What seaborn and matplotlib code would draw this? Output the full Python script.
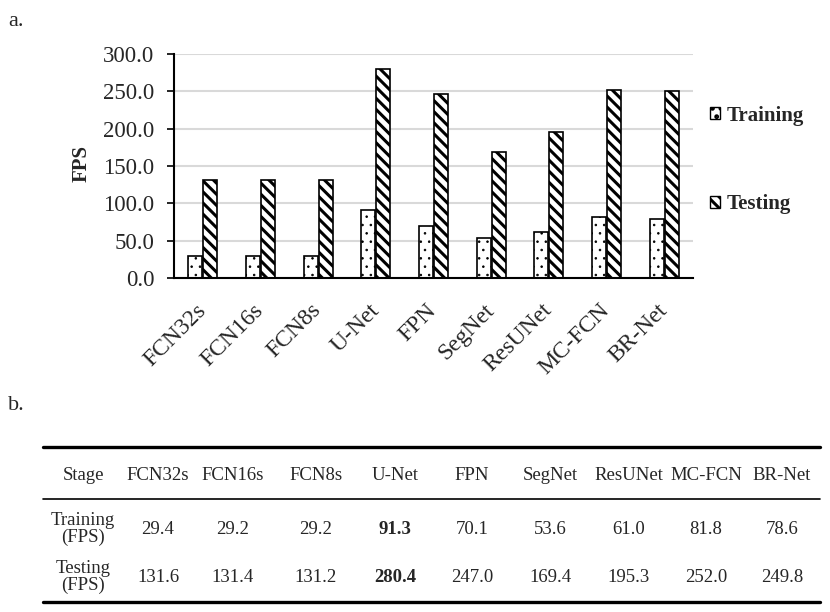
import numpy as np
import pandas as pd
import seaborn as sns
import matplotlib
matplotlib.use("Agg")
import matplotlib.pyplot as plt
from matplotlib.patches import Patch
from matplotlib.transforms import ScaledTranslation

# model names and FPS values (from table b.)
models = ["FCN32s", "FCN16s", "FCN8s", "U-Net", "FPN", "SegNet", "ResUNet", "MC-FCN", "BR-Net"]
train_fps = [29.4, 29.2, 29.2, 91.3, 70.1, 53.6, 61.0, 81.8, 78.6]
test_fps = [131.6, 131.4, 131.2, 280.4, 247.0, 169.4, 195.3, 252.0, 249.8]
stages = ["Training", "Testing"]
yticks = [0, 50, 100, 150, 200, 250, 300]

df = pd.DataFrame({
    "Model": models * 2,
    "FPS": train_fps + test_fps,
    "Stage": ["Training"] * len(models) + ["Testing"] * len(models),
})

sns.set_style("white")
plt.rcParams["font.family"] = ["Liberation Serif", "DejaVu Serif"]
plt.rcParams["hatch.linewidth"] = 2.2

hatches = {"Training": "..", "Testing": "\\\\\\"}
hatch_lw = {"Training": 0.6, "Testing": 2.2}


def set_hlw(p, lw):
    # per-patch hatch width (matplotlib >= 3.10), else private attribute
    if hasattr(p, "set_hatch_linewidth"):
        p.set_hatch_linewidth(lw)
    else:
        p._hatch_linewidth = lw


fig = plt.figure(figsize=(8.3, 6.12), dpi=100)
ax = fig.add_axes([174 / 830, 1 - 278 / 612, (693 - 174) / 830, (278 - 54) / 612])

sns.barplot(data=df, x="Model", y="FPS", hue="Stage", order=models, hue_order=stages,
            palette=["white", "white"], width=0.52, gap=0.06, edgecolor="black",
            linewidth=1.2, legend=False, ax=ax)

nm = len(models)
for i, bar in enumerate(ax.patches[:2 * nm]):
    st = stages[i // nm]
    bar.set_hatch(hatches[st])
    bar.set_edgecolor("black")
    set_hlw(bar, hatch_lw[st])

ax.set_ylim(0, 300)
ax.set_xlim(-0.5, nm - 0.5)
ax.set_yticks(yticks)
ax.set_yticklabels([f"{v:.1f}" for v in yticks], fontsize=16.5)
ax.yaxis.grid(True, color="#d9d9d9", linewidth=1.5)
ax.set_axisbelow(True)
ax.set_xlabel("")
ax.set_ylabel("FPS", fontsize=15, fontweight="bold")
ax.yaxis.set_label_coords((92 - 174) / 519, (278 - 164) / 224)
ax.set_xticks(range(nm))
ax.set_xticklabels(models, rotation=45, ha="right", va="center", rotation_mode="anchor",
                   fontsize=17)
shift = ScaledTranslation(6 / 100, 0, fig.dpi_scale_trans)
for lab in ax.get_xticklabels():
    lab.set_transform(lab.get_transform() + shift)
ax.set_xticks(np.arange(-0.5, nm), minor=True)
ax.tick_params(axis="x", which="major", length=0, pad=21)
ax.tick_params(axis="x", which="minor", length=6, width=1.2, color="black", direction="out")
ax.tick_params(axis="y", length=5, width=1.2, color="black", direction="out", left=True, pad=9)
for s in ["top", "right"]:
    ax.spines[s].set_visible(False)
for s in ["left", "bottom"]:
    ax.spines[s].set_color("black")
    ax.spines[s].set_linewidth(1.5)

handles = []
for s in stages:
    h = Patch(facecolor="white", edgecolor="black", hatch=hatches[s], label=s)
    set_hlw(h, hatch_lw[s])
    handles.append(h)
fig.legend(handles=handles, loc="center left", bbox_to_anchor=(710 / 830, 1 - 160 / 612),
           frameon=False, prop={"weight": "bold", "size": 15}, handlelength=0.5,
           handleheight=0.5, handletextpad=0.3, labelspacing=3.3, borderpad=0,
           borderaxespad=0)

# panel labels
fig.text(8 / 830, 1 - 21 / 612, "a.", fontsize=16, va="center")
fig.text(8 / 830, 1 - 406 / 612, "b.", fontsize=16, va="center")

# table b. drawn in pixel coordinates
tax = fig.add_axes([0, 0, 1, 1])
tax.set_xlim(0, 830)
tax.set_ylim(612, 0)
tax.axis("off")
col_x = [83, 158, 233, 316, 395, 472, 550, 629, 706, 782]
tax.plot([43, 820], [447, 447], color="black", lw=2.4)
tax.plot([43, 820], [499, 499], color="black", lw=1.2)
tax.plot([43, 820], [602, 602], color="black", lw=2.4)
header = ["Stage"] + models
for x, t in zip(col_x, header):
    tax.text(x, 476, t, ha="center", va="center", fontsize=13.5)
row_y = [529, 577]
for r, (name, vals) in enumerate(zip(stages, [train_fps, test_fps])):
    tax.text(col_x[0], row_y[r], f"{name}\n(FPS)", ha="center", va="center",
             fontsize=13.5, linespacing=0.95)
    best = max(vals)
    for x, v in zip(col_x[1:], vals):
        tax.text(x, row_y[r], f"{v:.1f}", ha="center", va="center", fontsize=13.5,
                 fontweight="bold" if v == best else "normal")

fig.savefig("out.png", dpi=100)
